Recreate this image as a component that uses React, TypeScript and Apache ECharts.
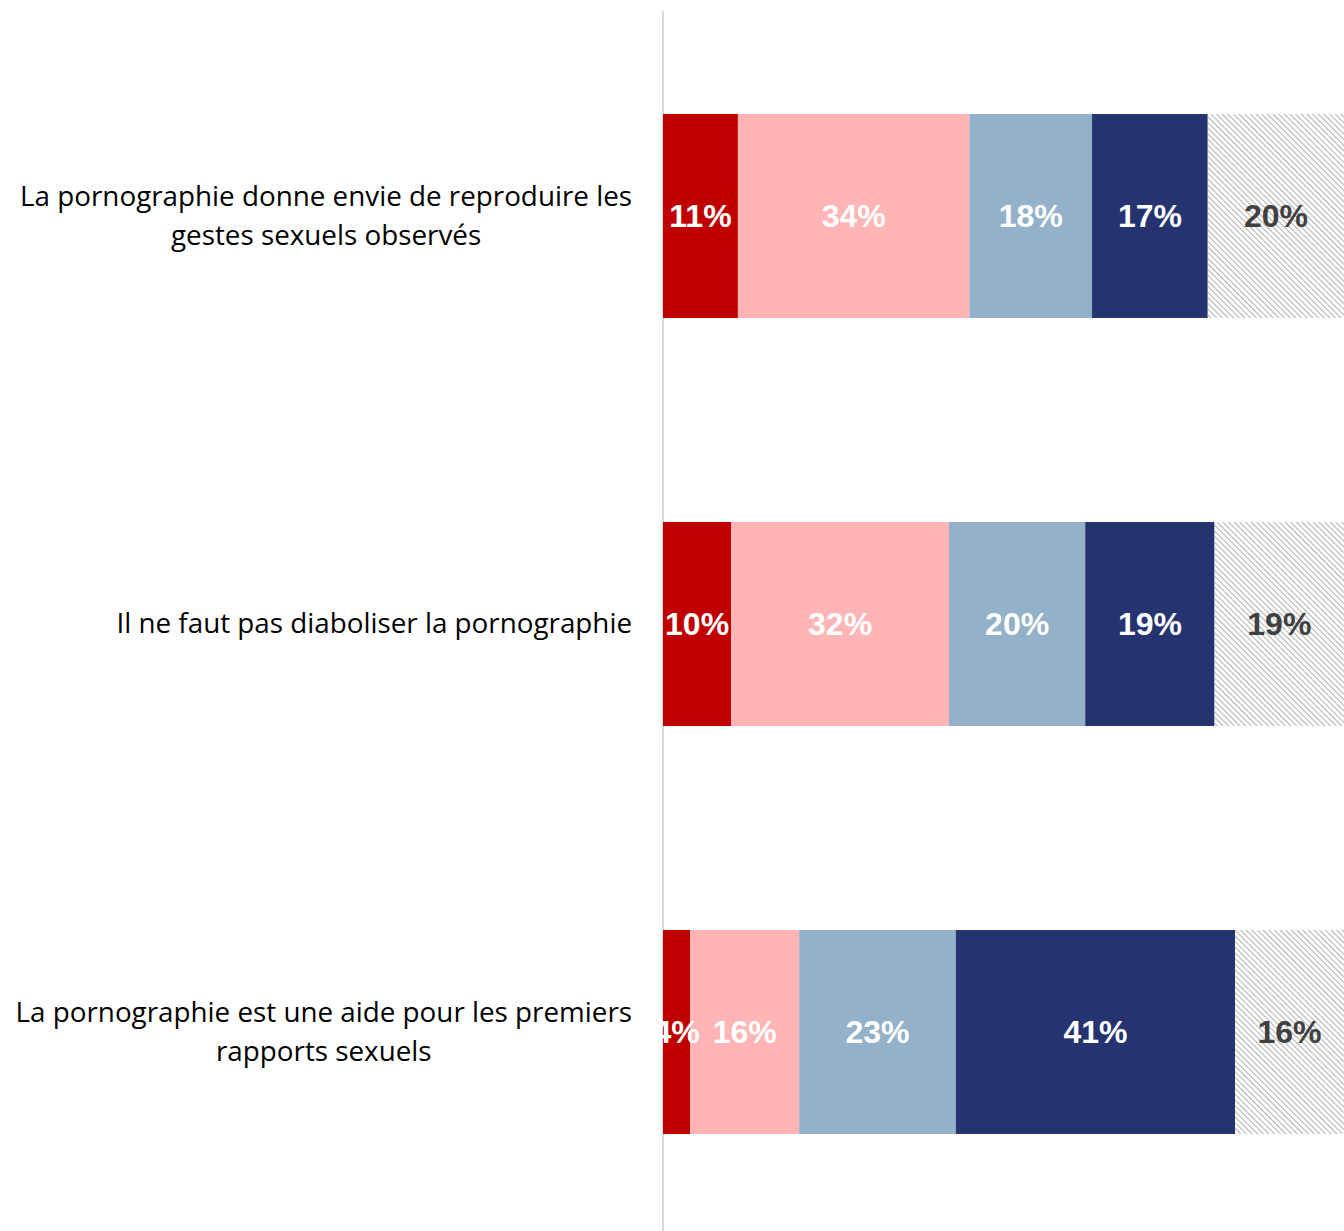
import React, { useEffect, useRef } from "react";
import * as echarts from "echarts";

const categories = [
  "La pornographie donne envie de reproduire les\ngestes sexuels observés",
  "Il ne faut pas diaboliser la pornographie",
  "La pornographie est une aide pour les premiers\nrapports sexuels",
];

const seriesNames = ["Tout à fait d'accord", "Plutôt d'accord", "Plutôt pas d'accord", "Pas du tout d'accord", "Ne se prononce pas"];
const s1 = [11, 10, 4];
const s2 = [34, 32, 16];
const s3 = [18, 20, 23];
const s4 = [17, 19, 41];
const s5 = [20, 19, 16];

const colors = ["#C00000", "#FFB5B5", "#93B1C8", "#253371", "#FFFFFF"];

export default function App() {
  const ref = useRef<HTMLDivElement>(null);
  useEffect(() => {
    const chart = echarts.init(ref.current!, null, { renderer: "svg" });
    const all = [s1, s2, s3, s4, s5];
    chart.setOption({
      animation: false,
      grid: { left: 663, right: 0, top: 12, bottom: 4, containLabel: false },
      xAxis: { type: "value", min: 0, max: 100, show: false },
      yAxis: {
        type: "category",
        data: categories,
        inverse: true,
        axisLine: { show: true, lineStyle: { color: "#D9D9D9", width: 2 } },
        axisTick: { show: false },
        axisLabel: {
          margin: 31,
          align: "right",
          padding: [0, 0, 4, 0],
          formatter: (v: string) =>
            v
              .split("\n")
              .map((l) => "{c|" + l + "}")
              .join("\n"),
          rich: {
            c: {
              fontFamily: "Open Sans",
              fontSize: 27.8,
              color: "#000",
              align: "center",
              lineHeight: 39,
            },
          },
        },
      },
      series: all.map((d, i) => ({
        name: seriesNames[i],
        type: "bar",
        stack: "total",
        barWidth: "50%",
        data: d,
        itemStyle: {
          color: colors[i],
          decal:
            i === 4
              ? {
                  symbol: "rect",
                  symbolSize: 1,
                  color: "#b0b0b0",
                  dashArrayX: [1, 0],
                  dashArrayY: [1, 3],
                  rotation: Math.PI / 4,
                }
              : "none",
        },
        label: {
          show: true,
          position: "inside",
          formatter: "{c}%",
          fontFamily: "Liberation Sans",
          fontWeight: "bold",
          fontSize: 32,
          color: i === 4 ? "#404040" : "#FFFFFF",
        },
      })),
      aria: { enabled: false, decal: { show: false } },
    });
    return () => chart.dispose();
  }, []);
  return (
    <div
      ref={ref}
      style={{ position: "fixed", left: 0, top: 0, width: 1344, height: 1240, background: "#fff" }}
    />
  );
}
